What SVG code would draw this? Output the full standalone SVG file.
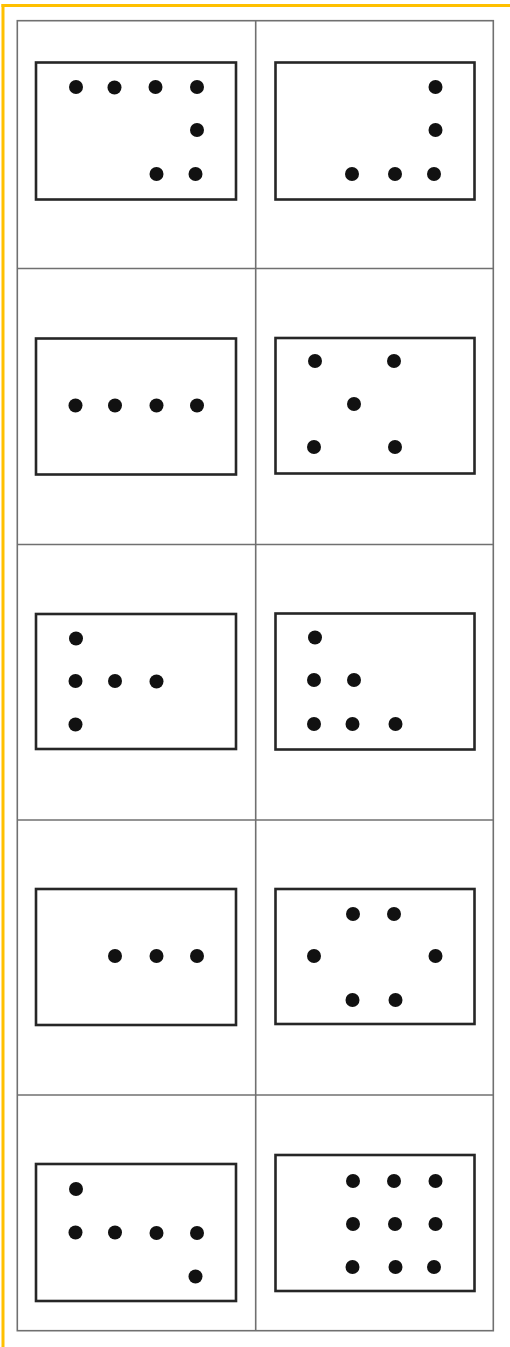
<svg xmlns="http://www.w3.org/2000/svg" width="510" height="1347" viewBox="0 0 510 1347">
<style>
.frame{stroke:#FFC000;stroke-width:3;fill:none}
.grid{stroke:#707070;stroke-width:1.6;fill:none}
.box{stroke:#262626;stroke-width:2.6;fill:none}
.dot{fill:#111}
</style>
<rect x="0" y="0" width="510" height="1347" fill="#ffffff"/>
<g id="frame">
<line class="frame" x1="3" y1="4" x2="3" y2="1347"/>
<line class="frame" x1="1.5" y1="5.5" x2="510" y2="5.5"/>
</g>
<g id="grid">
<rect class="grid" x="17.3" y="20.7" width="476" height="1310"/>
<line class="grid" x1="255.7" y1="20.7" x2="255.7" y2="1330.7"/>
<line class="grid" x1="17.3" y1="268.5" x2="493.3" y2="268.5"/>
<line class="grid" x1="17.3" y1="544.5" x2="493.3" y2="544.5"/>
<line class="grid" x1="17.3" y1="820" x2="493.3" y2="820"/>
<line class="grid" x1="17.3" y1="1095" x2="493.3" y2="1095"/>
</g>
<g id="cell-1-1">
<rect class="box" x="36" y="62.5" width="200" height="137"/>
<circle class="dot" cx="76" cy="87" r="7"/><circle class="dot" cx="114.5" cy="87.5" r="7"/><circle class="dot" cx="155.5" cy="87" r="7"/><circle class="dot" cx="197" cy="87" r="7"/>
<circle class="dot" cx="197" cy="130" r="7"/>
<circle class="dot" cx="156.5" cy="174" r="7"/><circle class="dot" cx="195.5" cy="174" r="7"/>
</g>
<g id="cell-1-2">
<rect class="box" x="275.5" y="62.5" width="199" height="137"/>
<circle class="dot" cx="435.5" cy="87" r="7"/>
<circle class="dot" cx="435.5" cy="130" r="7"/>
<circle class="dot" cx="352" cy="174" r="7"/><circle class="dot" cx="395" cy="174" r="7"/><circle class="dot" cx="434" cy="174" r="7"/>
</g>
<g id="cell-2-1">
<rect class="box" x="36" y="338.5" width="200" height="136"/>
<circle class="dot" cx="75.5" cy="405.5" r="7"/><circle class="dot" cx="115" cy="405.5" r="7"/><circle class="dot" cx="156.5" cy="405.5" r="7"/><circle class="dot" cx="197" cy="405.5" r="7"/>
</g>
<g id="cell-2-2">
<rect class="box" x="275.5" y="338" width="199" height="135.5"/>
<circle class="dot" cx="315" cy="361" r="7"/><circle class="dot" cx="394" cy="361" r="7"/>
<circle class="dot" cx="354" cy="404" r="7"/>
<circle class="dot" cx="314" cy="447" r="7"/><circle class="dot" cx="395" cy="447" r="7"/>
</g>
<g id="cell-3-1">
<rect class="box" x="36" y="614" width="200" height="135"/>
<circle class="dot" cx="76" cy="638.5" r="7"/>
<circle class="dot" cx="75.5" cy="681" r="7"/><circle class="dot" cx="115" cy="681" r="7"/><circle class="dot" cx="156.5" cy="681.5" r="7"/>
<circle class="dot" cx="75.5" cy="724.5" r="7"/>
</g>
<g id="cell-3-2">
<rect class="box" x="275.5" y="613.5" width="199" height="136"/>
<circle class="dot" cx="315" cy="637.5" r="7"/>
<circle class="dot" cx="314" cy="680" r="7"/><circle class="dot" cx="354" cy="680" r="7"/>
<circle class="dot" cx="314" cy="724" r="7"/><circle class="dot" cx="352.5" cy="724" r="7"/><circle class="dot" cx="395.5" cy="724" r="7"/>
</g>
<g id="cell-4-1">
<rect class="box" x="36" y="889" width="200" height="136"/>
<circle class="dot" cx="115" cy="956" r="7"/><circle class="dot" cx="156.5" cy="956" r="7"/><circle class="dot" cx="197" cy="956" r="7"/>
</g>
<g id="cell-4-2">
<rect class="box" x="275.5" y="889" width="199" height="135"/>
<circle class="dot" cx="353" cy="914" r="7"/><circle class="dot" cx="394" cy="914" r="7"/>
<circle class="dot" cx="314" cy="956" r="7"/><circle class="dot" cx="435.5" cy="956" r="7"/>
<circle class="dot" cx="352.5" cy="1000" r="7"/><circle class="dot" cx="395.5" cy="1000" r="7"/>
</g>
<g id="cell-5-1">
<rect class="box" x="36" y="1164" width="200" height="137"/>
<circle class="dot" cx="76" cy="1189" r="7"/>
<circle class="dot" cx="75.5" cy="1232.5" r="7"/><circle class="dot" cx="115" cy="1232.5" r="7"/><circle class="dot" cx="156.5" cy="1233" r="7"/><circle class="dot" cx="197" cy="1233" r="7"/>
<circle class="dot" cx="195.5" cy="1276.5" r="7"/>
</g>
<g id="cell-5-2">
<rect class="box" x="275.5" y="1155" width="199" height="136"/>
<circle class="dot" cx="353" cy="1181" r="7"/><circle class="dot" cx="394" cy="1181" r="7"/><circle class="dot" cx="435.5" cy="1181" r="7"/>
<circle class="dot" cx="353" cy="1224" r="7"/><circle class="dot" cx="395" cy="1224" r="7"/><circle class="dot" cx="435.5" cy="1224" r="7"/>
<circle class="dot" cx="352.5" cy="1267" r="7"/><circle class="dot" cx="395.5" cy="1267" r="7"/><circle class="dot" cx="434" cy="1267" r="7"/>
</g>
</svg>
